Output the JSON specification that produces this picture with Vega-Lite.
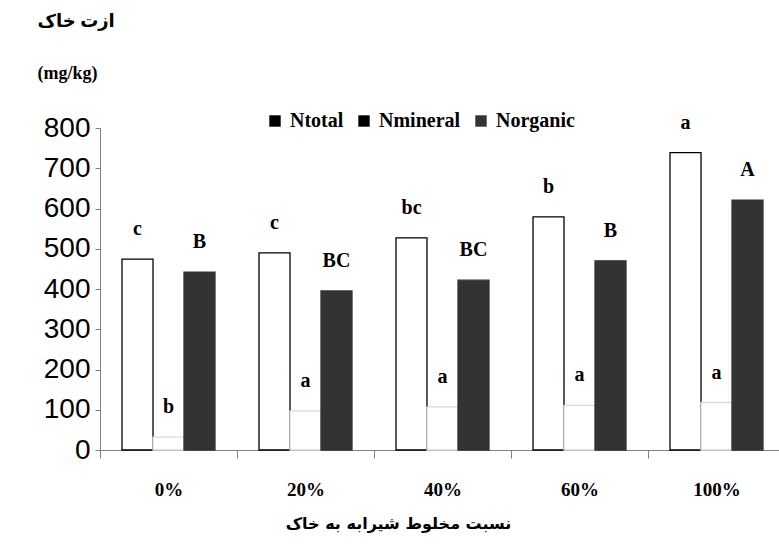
{
  "$schema": "https://vega.github.io/schema/vega-lite/v6.json",
  "autosize": "none",
  "padding": {"left": 100, "top": 128, "right": 0, "bottom": 98},
  "width": 685,
  "height": 322,
  "background": "white",
  "config": {
    "view": {"stroke": null},
    "axis": {"grid": false, "domainColor": "#808080", "tickColor": "#808080", "labelColor": "black"}
  },
  "data": {
    "values": [
      {"ratio": "0%", "form": "Ntotal", "value": 474, "letter": "c"},
      {"ratio": "0%", "form": "Nmineral", "value": 32, "letter": "b"},
      {"ratio": "0%", "form": "Norganic", "value": 442, "letter": "B"},
      {"ratio": "20%", "form": "Ntotal", "value": 490, "letter": "c"},
      {"ratio": "20%", "form": "Nmineral", "value": 97, "letter": "a"},
      {"ratio": "20%", "form": "Norganic", "value": 395, "letter": "BC"},
      {"ratio": "40%", "form": "Ntotal", "value": 527, "letter": "bc"},
      {"ratio": "40%", "form": "Nmineral", "value": 107, "letter": "a"},
      {"ratio": "40%", "form": "Norganic", "value": 422, "letter": "BC"},
      {"ratio": "60%", "form": "Ntotal", "value": 579, "letter": "b"},
      {"ratio": "60%", "form": "Nmineral", "value": 111, "letter": "a"},
      {"ratio": "60%", "form": "Norganic", "value": 470, "letter": "B"},
      {"ratio": "100%", "form": "Ntotal", "value": 739, "letter": "a"},
      {"ratio": "100%", "form": "Nmineral", "value": 118, "letter": "a"},
      {"ratio": "100%", "form": "Norganic", "value": 621, "letter": "A"}
    ]
  },
  "encoding": {
    "x": {
      "field": "ratio",
      "type": "nominal",
      "sort": ["0%", "20%", "40%", "60%", "100%"],
      "scale": {"paddingInner": 0, "paddingOuter": 0},
      "axis": {
        "title": "نسبت مخلوط شیرابه به خاک",
        "titleFont": "DejaVu Sans",
        "titleFontSize": 16,
        "titleFontWeight": "bold",
        "titleColor": "black",
        "titleX": 298,
        "titleY": 65,
        "titleAlign": "center",
        "titleBaseline": "top",
        "labelAngle": 0,
        "labelFont": "Liberation Serif",
        "labelFontSize": 19,
        "labelFontWeight": "bold",
        "labelPadding": 22,
        "tickBand": "extent",
        "tickSize": 8
      }
    },
    "xOffset": {
      "field": "form",
      "type": "nominal",
      "sort": ["Ntotal", "Nmineral", "Norganic"],
      "scale": {"paddingInner": 0, "paddingOuter": 0.71}
    }
  },
  "layer": [
    {
      "mark": {"type": "bar", "strokeWidth": 1.3},
      "encoding": {
        "y": {
          "field": "value",
          "type": "quantitative",
          "scale": {"domain": [0, 800]},
          "axis": {
            "values": [0, 100, 200, 300, 400, 500, 600, 700, 800],
            "title": ["ازت خاک", "(mg/kg)"],
            "titleAngle": 0,
            "titleAlign": "left",
            "titleBaseline": "top",
            "titleX": -63,
            "titleY": -116,
            "titleLineHeight": 52,
            "titleFont": "Liberation Serif, DejaVu Sans",
            "titleFontSize": 18,
            "titleFontWeight": "bold",
            "titleColor": "black",
            "labelFont": "Liberation Sans",
            "labelFontSize": 28,
            "labelPadding": 5,
            "tickSize": 5
          }
        },
        "fill": {
          "field": "form",
          "type": "nominal",
          "scale": {"range": ["white", "#333333", "white"]},
          "legend": null
        },
        "stroke": {
          "field": "form",
          "type": "nominal",
          "scale": {"range": ["#d9d9d9", "#333333", "black"]},
          "legend": null
        }
      }
    },
    {
      "mark": {"type": "text", "dy": -30, "font": "Liberation Serif", "fontSize": 20, "fontWeight": "bold", "color": "black", "baseline": "middle"},
      "encoding": {
        "y": {"field": "value", "type": "quantitative"},
        "text": {"field": "letter"}
      }
    },
    {
      "mark": {"type": "bar", "strokeWidth": 0},
      "encoding": {
        "y": {"datum": 0, "type": "quantitative"},
        "color": {
          "field": "form",
          "type": "nominal",
          "scale": {"domain": ["Ntotal", "Nmineral", "Norganic"], "range": ["#000000", "#000000", "#333333"]},
          "legend": {
            "title": null,
            "orient": "none",
            "direction": "horizontal",
            "legendX": 165,
            "legendY": -17,
            "symbolType": "square",
            "symbolSize": 130,
            "symbolStrokeWidth": 0,
            "labelFont": "Liberation Serif",
            "labelFontSize": 20,
            "labelFontWeight": "bold",
            "labelColor": "black",
            "labelOffset": 5,
            "columnPadding": 10
          }
        }
      }
    }
  ]
}
